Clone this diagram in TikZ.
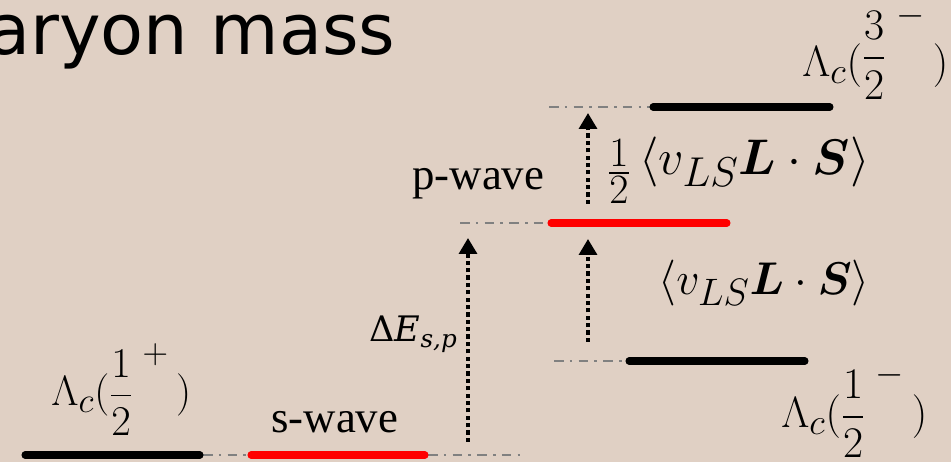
\documentclass[tikz,border=0pt]{standalone}
\usepackage{fontspec}
\usepackage{amsmath}
\usepackage{bm}
\usepackage{graphicx}
\usetikzlibrary{arrows.meta}
\newfontfamily\titlefont{DejaVu Sans}
\newfontfamily\wavefont{Liberation Serif}
\newfontfamily\deltafont{DejaVu Serif}
\definecolor{slidebg}{RGB}{224,208,196}
\definecolor{levelred}{RGB}{255,0,0}
\definecolor{guidegray}{RGB}{128,128,128}

\begin{document}
\begin{tikzpicture}[x=0.02cm, y=-0.02cm,
  lvl/.style={line width=4pt, line cap=round},
  guideline/.style={draw=guidegray, line width=1.6pt,
    dash pattern=on 5.5pt off 3.5pt on 1.5pt off 3.5pt},
  gaparrow/.style={line width=2.6pt, dash pattern=on 2.4pt off 1.8pt,
    -{Triangle[length=9pt, width=10pt]}},
  lbl/.style={inner sep=0pt},
  mathlbl/.style={lbl, font=\fontsize{24.88}{30}\selectfont},
]
\fill[slidebg] (0,0) rectangle (951,462);
\useasboundingbox (0,0) rectangle (951,462);

\node[lbl, anchor=base west, font=\titlefont\fontsize{40}{46}\selectfont]
  (title) at (-13,55) {aryon mass};

% thin guides
\draw[guideline] (203,455) -- (248,455);
\draw[guideline] (428,455) -- (520,455);
\draw[guideline] (460,223) -- (548,223);
\draw[guideline] (554,361) -- (626,361);
\draw[guideline] (549,107) -- (650,107);

% levels
\draw[lvl] (25,455) -- (200,455);
\draw[lvl, levelred] (251,455) -- (425,455);
\draw[lvl, levelred] (551,223) -- (727,223);
\draw[lvl] (629,361) -- (805,361);
\draw[lvl] (653,107) -- (830,107);

\coordinate (swave) at (468,442);
\coordinate (pwave) at (468,238);
\coordinate (lsbot) at (588,342);
\coordinate (lsmid) at (588,239);
\coordinate (lsup) at (588,204);
\coordinate (lstop) at (588,113);

\draw[gaparrow] (swave) -- (pwave);
\draw[gaparrow] (lsbot) -- (lsmid);
\draw[gaparrow] (lsup) -- (lstop);

\node[mathlbl, anchor=base west] (lamhalfp) at (51,406)
  {\scalebox{0.97}{$\Lambda_c(\dfrac{1}{2}^{\;+}\,)$}};
\node[mathlbl, anchor=base west] (lamhalfm) at (781,428)
  {$\Lambda_c(\dfrac{1}{2}^{\;-}\,)$};
\node[mathlbl, anchor=base west] (lamthreem) at (802,77)
  {$\Lambda_c(\raisebox{4.5pt}{$\displaystyle\frac{3}{2}$}^{\;-}\,)$};

\node[lbl, anchor=base west, font=\wavefont\fontsize{25.5}{30}\selectfont]
  (slbl) at (271,433) {s-wave};
\node[lbl, anchor=base west, font=\wavefont\fontsize{25.5}{30}\selectfont]
  (plbl) at (412,190) {p-wave};
\node[lbl, anchor=base east, font=\deltafont\fontsize{20}{24}\selectfont]
  (delta) at (458,342) {Δ\textit{E}\textsubscript{\textit{s,p}}};

\node[mathlbl, anchor=base east] (halfls) at (870,175)
  {\scalebox{1.145}{$\raisebox{-0.22em}{$\frac{1}{2}$}\,\langle v_{LS}\bm{L}\cdot\bm{S}\rangle$}};
\node[mathlbl, anchor=base east] (fullls) at (870,295)
  {\scalebox{1.05}{$\langle v_{LS}\bm{L}\cdot\bm{S}\rangle$}};
\end{tikzpicture}
\end{document}
